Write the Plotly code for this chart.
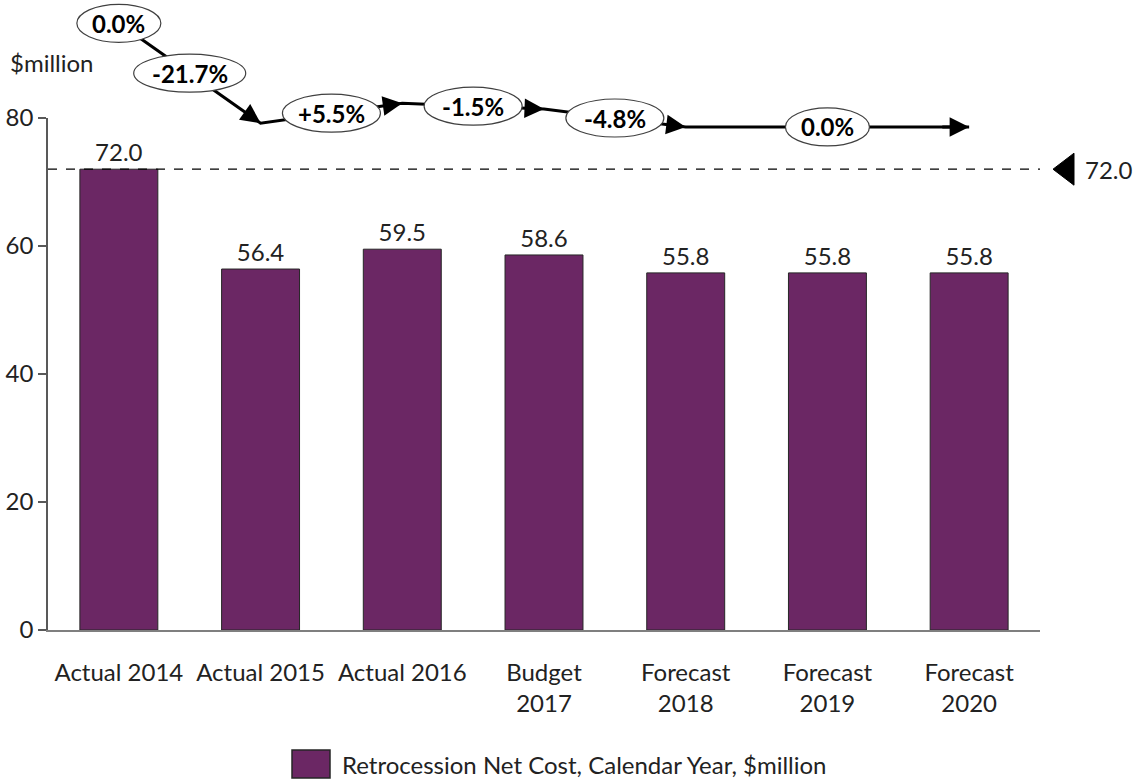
import plotly.graph_objects as go

# ---------------- data ----------------
categories = ["Actual 2014", "Actual 2015", "Actual 2016", "Budget<br>2017",
              "Forecast<br>2018", "Forecast<br>2019", "Forecast<br>2020"]
values = [72.0, 56.4, 59.5, 58.6, 55.8, 55.8, 55.8]
value_labels = ["72.0", "56.4", "59.5", "58.6", "55.8", "55.8", "55.8"]
trend_nodes = [0, 1, 2, 3, 4, 6]           # category indices joined by the trend arrow
change_labels = ["0.0%", "-21.7%", "+5.5%", "-1.5%", "-4.8%", "0.0%"]
baseline_value = 72.0
baseline_label = "72.0"
y_ticks = [0, 20, 40, 60, 80]
series_name = "Retrocession Net Cost, Calendar Year, $million"
unit_label = "$million"

# ---------------- style / layout ----------------
W, H = 1134, 783
ML, MR, MT, MB = 48, 94, 0, 153
plot_h = H - MT - MB                      # 630
pw = W - ML - MR
axis_px = 512                             # pixel height of the 0..80 axis
y_max = 80
y_dom_top = axis_px / plot_h
y2_max = y_max / y_dom_top
trend_offset = 22.8                       # vertical offset of the trend line (axis units)
BAR = "#6B2764"
TXT = "#222222"
FONT = "Lato"
FS = 24
x_pos = list(range(len(categories)))

fig = go.Figure()

fig.add_trace(go.Bar(
    x=x_pos, y=values, name=series_name, width=0.55,
    marker=dict(color=BAR, line=dict(color="#262626", width=1)),
    text=value_labels, textposition="outside", cliponaxis=False,
    textfont=dict(family=FONT, size=FS, color=TXT),
    showlegend=False, hoverinfo="x+y",
))

# trend line (on an invisible axis sharing the same scale, extended upwards)
tx = [x_pos[i] for i in trend_nodes]
ty = [values[i] + trend_offset for i in trend_nodes]
fig.add_trace(go.Scatter(
    x=tx, y=ty, mode="lines", xaxis="x", yaxis="y2",
    line=dict(color="black", width=3), showlegend=False, hoverinfo="skip",
))

shapes = []
annotations = []

# arrowheads at the end of each segment
for k in range(1, len(tx)):
    x0, y0, x1, y1 = tx[k - 1], ty[k - 1], tx[k], ty[k]
    f = 0.9
    annotations.append(dict(
        x=x1, y=y1, xref="x", yref="y2",
        ax=x0 + f * (x1 - x0), ay=y0 + f * (y1 - y0), axref="x", ayref="y2",
        showarrow=True, arrowhead=2, arrowsize=1.3, arrowwidth=3,
        arrowcolor="black", text="", standoff=0,
    ))

# ellipse labels: first at the start node, others at segment midpoints
label_pos = [(tx[0], ty[0])] + [((tx[k - 1] + tx[k]) / 2, (ty[k - 1] + ty[k]) / 2)
                                for k in range(1, len(tx))]
for (lx, ly), lab in zip(label_pos, change_labels):
    w = 28 + 14 * len(lab)
    shapes.append(dict(
        type="circle", xref="x", yref="y2", xsizemode="pixel", ysizemode="pixel",
        xanchor=lx, yanchor=ly, x0=-w / 2, x1=w / 2, y0=-19, y1=19,
        fillcolor="white", line=dict(color="#404040", width=1.2), layer="above",
    ))
    annotations.append(dict(
        x=lx, y=ly, xref="x", yref="y2", text="<b>%s</b>" % lab, showarrow=False,
        font=dict(family=FONT, size=FS, color="black"),
    ))

# baseline dashed line + marker
shapes.append(dict(
    type="line", xref="paper", yref="y", x0=0, x1=1, y0=baseline_value, y1=baseline_value,
    line=dict(color="black", width=1.2, dash="dash"), layer="above",
))
tri_x = (1053 - ML) / pw
shapes.append(dict(
    type="path", xref="paper", yref="y", xsizemode="pixel", ysizemode="pixel",
    xanchor=tri_x, yanchor=baseline_value, path="M 0,0 L 21,16 L 21,-16 Z",
    fillcolor="black", line=dict(color="black", width=1),
))
annotations.append(dict(
    x=(1083 - ML) / pw, y=baseline_value, xref="paper", yref="y",
    xanchor="left", yanchor="middle", text=baseline_label, showarrow=False,
    font=dict(family=FONT, size=FS, color=TXT),
))

# unit label
annotations.append(dict(
    x=(8 - ML) / pw, y=(plot_h - 63) / plot_h, xref="paper", yref="paper",
    xanchor="left", yanchor="middle", text=unit_label, showarrow=False,
    font=dict(family=FONT, size=FS, color=TXT),
))

# manual legend
shapes.append(dict(
    type="rect", xref="paper", yref="paper",
    x0=(292 - ML) / pw, x1=(330 - ML) / pw,
    y0=(plot_h - 750) / plot_h, y1=(plot_h - 778) / plot_h,
    fillcolor=BAR, line=dict(color="#262626", width=1.5),
))
annotations.append(dict(
    x=(340 - ML) / pw, y=(plot_h - 765) / plot_h, xref="paper", yref="paper",
    xanchor="left", yanchor="middle", text=series_name, showarrow=False,
    font=dict(family=FONT, size=FS, color=TXT),
))

fig.update_layout(
    width=W, height=H, margin=dict(l=ML, r=MR, t=MT, b=MB, autoexpand=False),
    plot_bgcolor="rgba(0,0,0,0)", paper_bgcolor="white",
    font=dict(family=FONT, color=TXT),
    xaxis=dict(
        range=[-0.5, len(categories) - 0.5], tickvals=x_pos, ticktext=categories,
        showgrid=False, zeroline=False, showline=True, linecolor="#7f7f7f", linewidth=1.5,
        ticks="", tickfont=dict(family=FONT, size=FS, color=TXT), anchor="y",
        ticklabelstandoff=20,
    ),
    yaxis=dict(
        domain=[0, y_dom_top], range=[0, y_max], tickvals=y_ticks,
        showgrid=False, zeroline=False, showline=True, linecolor="#595959", linewidth=1.5,
        ticks="outside", ticklen=8, tickcolor="#595959", tickwidth=1.5,
        tickfont=dict(family=FONT, size=FS, color=TXT), anchor="x",
    ),
    yaxis2=dict(domain=[0, 1], range=[0, y2_max], visible=False, anchor="x"),
    shapes=shapes, annotations=annotations, bargap=0.45,
)

fig.write_html("out.html", config={"displayModeBar": False},
               post_script="document.body.style.margin='0';")
